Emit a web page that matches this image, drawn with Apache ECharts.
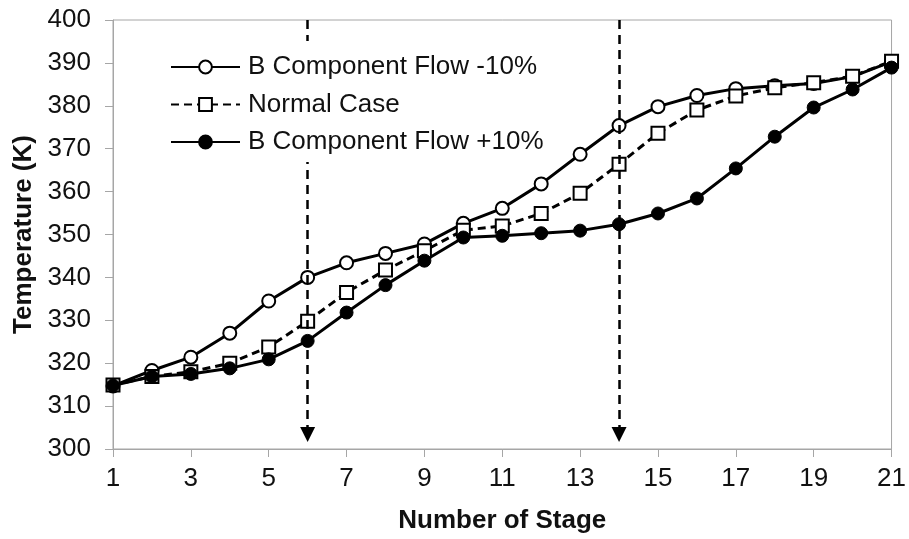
<!DOCTYPE html>
<head>
    <meta charset="utf-8">
    <title>Temperature profile</title>
</head>
<body style="margin:0;background:#fff">
   <div id="main" style="width:909px;height:539px"></div>
     <script src="https://cdn.jsdelivr.net/npm/echarts@6/dist/echarts.min.js"></script>
      <script type="text/javascript">

    // stages 1..21
    var stages = [];
    for (var s = 1; s <= 21; s++) stages.push(String(s));

    var flowMinus = [314.7, 318.3, 321.4, 327.0, 334.5, 340.0, 343.4, 345.6, 347.8, 352.6, 356.1,
                     361.8, 368.7, 375.4, 379.8, 382.4, 384.0, 384.7, 385.2, 386.8, 390.3];
    var normalCase = [314.9, 316.9, 318.0, 320.0, 323.8, 329.8, 336.5, 341.7, 346.2, 351.0, 352.0,
                      354.9, 359.6, 366.4, 373.6, 379.0, 382.3, 384.2, 385.4, 386.9, 390.4];
    var flowPlus = [314.8, 316.9, 317.5, 318.8, 320.9, 325.2, 331.8, 338.2, 343.9, 349.3, 349.7,
                    350.3, 350.9, 352.4, 354.9, 358.4, 365.4, 372.8, 379.6, 383.8, 388.9];

    // dashed arrows pointing down at these stages
    var arrowStages = ['6', '14'];
    var arrowFrom = 400;
    var arrowTo = 303.4;

    var font = "'Liberation Sans', Arial, sans-serif";
    var axisGrey = '#a6a6a6';

    var arrowLines = arrowStages.map(function (st) {
        return [{coord: [st, arrowFrom]}, {coord: [st, arrowTo]}];
    });

    var myChart = echarts.init(document.getElementById("main"));
    var option = {
        animation: false,
        backgroundColor: '#fff',
        grid: {
            left: 113, right: 17, top: 20, bottom: 90,
            show: true, borderColor: axisGrey, borderWidth: 1
        },
        legend: {
            orient: 'vertical',
            z: 20,
            left: 160,
            top: 41,
            padding: [13, 8, 7, 10],
            backgroundColor: '#fff',
            itemWidth: 69,
            itemHeight: 16,
            itemGap: 11.5,
            textStyle: {fontFamily: font, fontSize: 26, color: '#111', lineHeight: 26, padding: [0, 0, 0, 3]},
            data: ['B Component Flow -10%', 'Normal Case', 'B Component Flow +10%']
        },
        xAxis: {
            type: 'category',
            data: stages,
            boundaryGap: false,
            name: 'Number of Stage',
            nameLocation: 'middle',
            nameGap: 59,
            nameTextStyle: {fontFamily: font, fontSize: 26, fontWeight: 'bold', color: '#111'},
            axisLine: {lineStyle: {color: axisGrey, width: 1}},
            axisTick: {show: true, interval: 1, length: 8, lineStyle: {color: axisGrey}},
            axisLabel: {interval: 1, margin: 17, fontFamily: font, fontSize: 26, color: '#111'},
            splitLine: {show: false}
        },
        yAxis: {
            type: 'value',
            min: 300,
            max: 400,
            interval: 10,
            name: 'Temperature (K)',
            nameLocation: 'middle',
            nameRotate: 90,
            nameGap: 76,
            nameTextStyle: {fontFamily: font, fontSize: 26, fontWeight: 'bold', color: '#111'},
            axisLine: {show: true, lineStyle: {color: axisGrey, width: 1}},
            axisTick: {show: true, length: 8, lineStyle: {color: axisGrey}},
            axisLabel: {margin: 22, fontFamily: font, fontSize: 26, color: '#111'},
            splitLine: {show: false}
        },
        series: [
            {
                name: 'B Component Flow -10%',
                type: 'line',
                data: flowMinus,
                symbol: 'circle',
                symbolSize: 13,
                showAllSymbol: true,
                lineStyle: {color: '#000', width: 3},
                itemStyle: {color: '#fff', borderColor: '#000', borderWidth: 2},
                markLine: {
                    silent: true,
                    symbol: ['none', 'triangle'],
                    symbolSize: 15,
                    label: {show: false},
                    lineStyle: {color: '#000', width: 2.5, type: [9, 6]},
                    data: arrowLines
                }
            },
            {
                name: 'Normal Case',
                type: 'line',
                data: normalCase,
                symbol: 'rect',
                symbolSize: 13,
                showAllSymbol: true,
                lineStyle: {color: '#000', width: 3, type: [8, 5]},
                itemStyle: {color: '#fff', borderColor: '#000', borderWidth: 2}
            },
            {
                name: 'B Component Flow +10%',
                type: 'line',
                data: flowPlus,
                symbol: 'circle',
                symbolSize: 13,
                showAllSymbol: true,
                lineStyle: {color: '#000', width: 3},
                itemStyle: {color: '#000', borderColor: '#000', borderWidth: 1}
            }
        ]
    };
    myChart.setOption(option);

</script>
</body>
